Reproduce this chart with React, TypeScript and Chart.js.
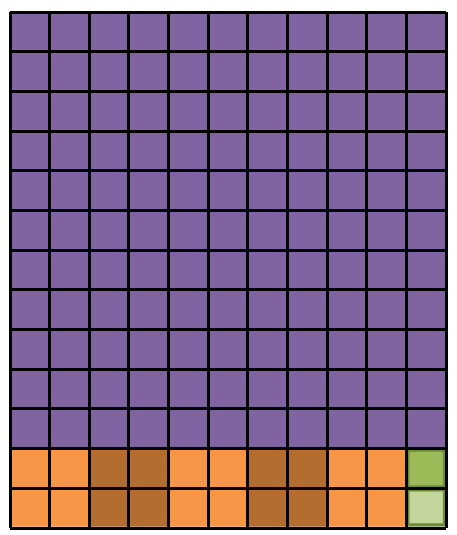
import React, { useEffect, useRef } from "react";
import { Chart, registerables } from "chart.js";

Chart.register(...registerables);

// 11 columns x 13 rows waffle grid, each cell = 1 unit
const columnLabels = ["1", "2", "3", "4", "5", "6", "7", "8", "9", "10", "11"];
const cellValue = 1;
const purpleRowCount = 11;

// bottom two rows (from the bottom up), each entry is a category per column
const bottomRow = ["orange", "orange", "brown", "brown", "orange", "orange", "brown", "brown", "orange", "orange", "lightGreen"];
const secondRow = ["orange", "orange", "brown", "brown", "orange", "orange", "brown", "brown", "orange", "orange", "green"];

const palette: Record<string, string> = {
  purple: "#8064A2",
  orange: "#F79646",
  brown: "#B46D30",
  green: "#9BBB59",
  lightGreen: "#C3D69B",
};
const borderPalette: Record<string, string> = {
  green: "#6E8B3A",
  lightGreen: "#6E8B3A",
};

export default function App() {
  const ref = useRef<HTMLCanvasElement | null>(null);
  useEffect(() => {
    if (!ref.current) return;
    const rows: string[][] = [bottomRow, secondRow];
    for (let i = 0; i < purpleRowCount; i++) rows.push(columnLabels.map(() => "purple"));
    const datasets = rows.map((row, idx) => ({
      label: "row " + (idx + 1),
      data: row.map(() => cellValue),
      backgroundColor: row.map((c) => palette[c]),
      borderColor: row.map((c) => borderPalette[c] || palette[c]),
      borderWidth: row.map((c) => (borderPalette[c] ? 3.5 : 0)),
      borderSkipped: false as const,
      categoryPercentage: 1,
      barPercentage: 1,
    }));
    const chart = new Chart(ref.current, {
      type: "bar",
      data: { labels: columnLabels, datasets },
      options: {
        animation: false,
        responsive: false,
        maintainAspectRatio: false,
        layout: { padding: { left: 10, top: 12, right: 11, bottom: 7 } },
        plugins: { legend: { display: false }, tooltip: { enabled: false } },
        scales: {
          x: {
            stacked: true,
            ticks: { display: false },
            grid: { color: "#000", lineWidth: 3, drawTicks: false, offset: true, z: 1 },
            border: { display: false },
          },
          y: {
            stacked: true,
            min: 0,
            max: purpleRowCount + 2,
            ticks: { display: false, stepSize: 1 },
            grid: { color: "#000", lineWidth: 3, drawTicks: false, z: 1 },
            border: { display: false },
          },
        },
      },
    });
    return () => chart.destroy();
  }, []);
  return (
    <div style={{ position: "fixed", left: 0, top: 0, width: 457, height: 535, background: "#fff" }}>
      <canvas ref={ref} width={457} height={535} style={{ width: 457, height: 535 }} />
    </div>
  );
}
